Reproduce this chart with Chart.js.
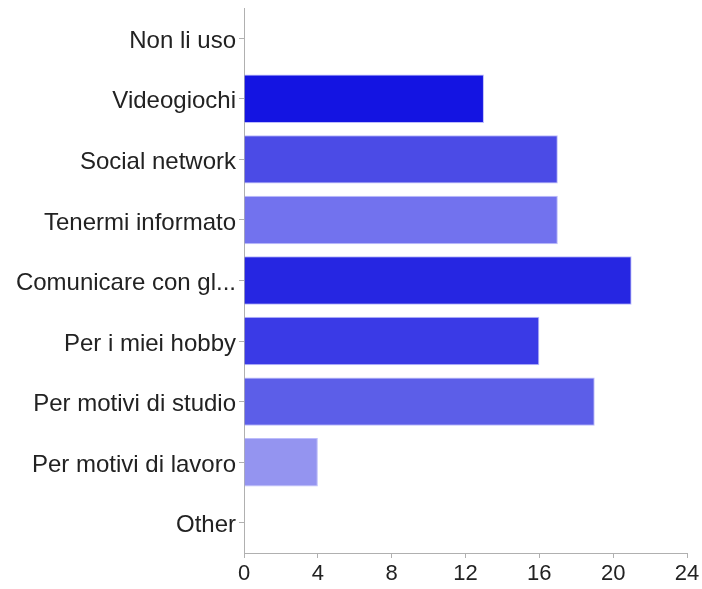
<!DOCTYPE html>
<html>
<head>
<meta charset="utf-8">
<script src="https://cdn.jsdelivr.net/npm/chart.js@4"></script>
<style>
  html, body { margin: 0; padding: 0; background: #fff; }
  #wrap { width: 702px; height: 589px; }
</style>
</head>
<body>
<div id="wrap"><canvas id="chart" width="702" height="589"></canvas></div>
<script>
// Dati
const categories = ['Non li uso', 'Videogiochi', 'Social network', 'Tenermi informato',
  'Comunicare con gl...', 'Per i miei hobby', 'Per motivi di studio', 'Per motivi di lavoro', 'Other'];
const values = [0, 13, 17, 17, 21, 16, 19, 4, 0];
const barColors = ['#1414e2', '#1414e2', '#4b4be6', '#7272ee', '#2626e2', '#3a3ae6', '#5c5ee8', '#9494f0', '#9494f0'];
const xTicks = [0, 4, 8, 12, 16, 20, 24];

const axisColor = '#b0b0b0';
const textColor = '#222222';
const fontFamily = 'Liberation Sans, Arial, Helvetica, sans-serif';

const ctx = document.getElementById('chart').getContext('2d');
new Chart(ctx, {
    type: 'bar',
    data: {
        labels: categories,
        datasets: [{
            data: values,
            backgroundColor: barColors,
            borderColor: 'rgba(160, 160, 250, 0.7)',
            borderWidth: 1,
            categoryPercentage: 0.8,
            barPercentage: 1
        }]
    },
    options: {
        indexAxis: 'y',
        responsive: false,
        animation: false,
        layout: { padding: { top: 8, right: 15, left: 0, bottom: 0 } },
        plugins: { legend: { display: false }, tooltip: { enabled: false } },
        scales: {
            x: {
                min: 0,
                max: 24,
                afterBuildTicks: axis => { axis.ticks = xTicks.map(v => ({ value: v })); },
                afterFit: axis => { axis.height = 36; axis.paddingRight = 0; axis.paddingLeft = 0; },
                grid: { drawOnChartArea: false, tickLength: 5, color: axisColor },
                border: { color: axisColor, width: 1 },
                ticks: { color: textColor, font: { family: fontFamily, size: 22 }, padding: 3, maxRotation: 0 }
            },
            y: {
                afterFit: axis => { axis.width = 244; axis.paddingTop = 0; axis.paddingBottom = 0; },
                grid: { drawOnChartArea: false, tickLength: 5, color: axisColor, offset: false },
                border: { color: axisColor, width: 1 },
                ticks: { color: textColor, font: { family: fontFamily, size: 24 }, padding: 3, labelOffset: 3 }
            }
        }
    }
});
</script>
</body>
</html>
